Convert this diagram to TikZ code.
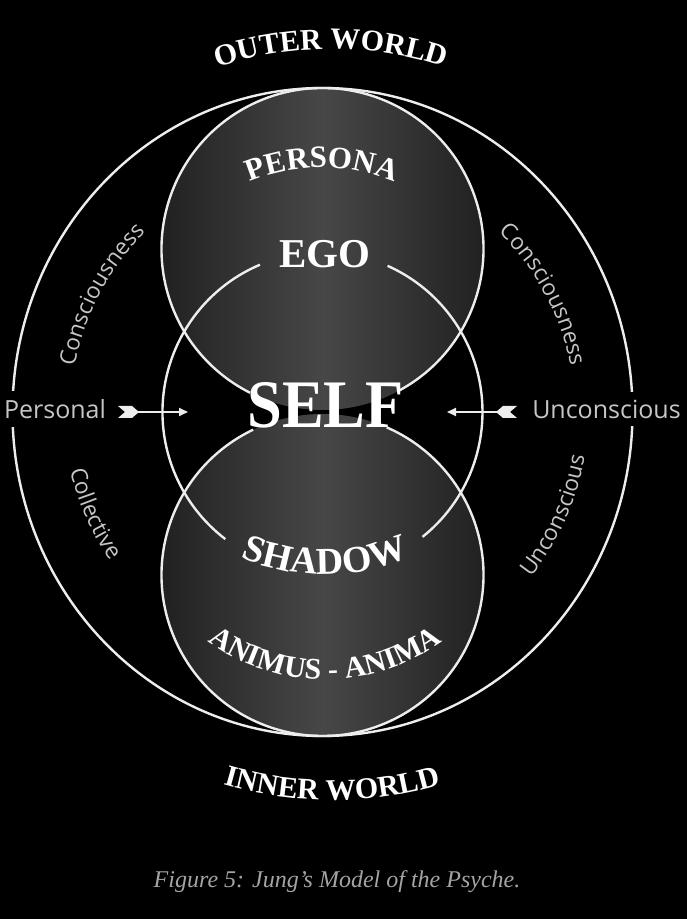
\documentclass[tikz,border=0pt]{standalone}
\usepackage{fontspec}
\setmainfont{Liberation Serif}
\newfontfamily\sidefont{Open Sans}
\usetikzlibrary{decorations.text,arrows.meta}
\definecolor{linew}{HTML}{EDEDED}
\definecolor{sidegray}{HTML}{C6C6C6}
\definecolor{capgray}{HTML}{A4A4A4}
\definecolor{discdark}{HTML}{212121}
\definecolor{disclight}{HTML}{474747}
\newcommand\lblfont[1]{\bfseries\fontsize{#1}{#1}\selectfont}
\newcommand\sidefnt{\sidefont\fontsize{22.5}{22.5}\selectfont}
\begin{document}
\begin{tikzpicture}[x=1pt,y=1pt,
  ring/.style={draw=linew, line width=2.4pt},
  disc/.style={left color=discdark, right color=discdark, middle color=disclight},
  shaft/.style={draw=linew, line width=1.8pt, -{Triangle[length=9pt,width=8pt]}},
  fletch/.style={fill=linew},
  sidelabel/.style={fill=black, text=sidegray, font=\sidefont\fontsize{25}{25}\selectfont, inner xsep=2pt, inner ysep=8pt}
]
\fill[black] (0,0) rectangle (687,919);
\useasboundingbox (0,0) rectangle (687,919);

% shaded discs
\shade[disc] (322.5,670) circle[radius=161];
\shade[disc] (322.5,344) circle[radius=161];

% outer world circle
\draw[ring] (322.5,507) ellipse[x radius=310, y radius=324];
% middle (self) circle, broken at EGO and SHADOW
\draw[ring] ([shift={(322.5,507)}]113:160) arc[start angle=113, end angle=232.6, radius=160];
\draw[ring] ([shift={(322.5,507)}]-51.3:160) arc[start angle=-51.3, end angle=66, radius=160];
% upper (persona) circle, broken at SELF
\draw[ring] ([shift={(322.5,670)}]-62:161) arc[start angle=-62, end angle=243.3, radius=161];
% lower (animus) circle, broken at SELF
\draw[ring] ([shift={(322.5,344)}]115.5:161) arc[start angle=115.5, end angle=426.5, radius=161];

% horizontal labels
\node[sidelabel] (personal) at (55,510) {Personal};
\node[sidelabel] (unconscious) at (606.5,510) {Unconscious};

% arrows
\coordinate (ltail) at (126,507);
\coordinate (lhead) at (188,507);
\coordinate (rtail) at (509,507);
\coordinate (rhead) at (447,507);
\draw[shaft] (ltail) -- (lhead);
\draw[shaft] (rtail) -- (rhead);
\fill[fletch] (118,513) -- (132,513) -- (139,507) -- (132,501) -- (118,501) -- (125,507) -- cycle;
\fill[fletch] (517,513) -- (503,513) -- (496,507) -- (503,501) -- (517,501) -- (510,507) -- cycle;

% curved side texts
\path[decorate, decoration={text along path, text align=center, text color=sidegray,
  text={|\sidefnt|Consciousness}}]
  ([shift={(322.5,507)}]172:252) arc[start angle=172, end angle=132, radius=252];
\path[decorate, decoration={text along path, text align=center, text color=sidegray,
  text={|\sidefnt|Consciousness}}]
  ([shift={(322.5,507)}]48:252) arc[start angle=48, end angle=8, radius=252];
\path[decorate, decoration={text along path, text align=center, text color=sidegray,
  text={|\sidefnt|Collective}}]
  ([shift={(322.5,507)}]184:259) arc[start angle=184, end angle=224, radius=259];
\path[decorate, decoration={text along path, text align=center, text color=sidegray,
  text={|\sidefnt|Unconscious}}]
  ([shift={(322.5,507)}]-44:266) arc[start angle=-44, end angle=-4, radius=266];

% curved serif labels
\path[decorate, decoration={text along path, text align=center, text color=white,
  text={|\lblfont{30}|OUTER WORLD}}]
  ([shift={(331,507)}]120:363) arc[start angle=120, end angle=60, radius=363];
\path[decorate, decoration={text along path, text align=center, text color=white,
  text={|\lblfont{30}|INNER WORLD}}]
  ([shift={(332,507)}]240:388) arc[start angle=240, end angle=300, radius=388];
\path[decorate, decoration={text along path, text align=center, text color=white,
  text={|\lblfont{31}|PERSONA}}]
  ([shift={(322,564.5)}]135:187) arc[start angle=135, end angle=45, radius=187];
\path[decorate, decoration={text along path, text align=center, text color=white,
  text={|\lblfont{38}|SHADOW}}]
  ([shift={(325,558.5)}]225:214) arc[start angle=225, end angle=315, radius=214];
\path[decorate, decoration={text along path, text align=center, text color=white,
  text={|\lblfont{30}|ANIMUS - ANIMA}}]
  ([shift={(325,439)}]215:199.5) arc[start angle=215, end angle=325, radius=199.5];

% straight labels
\node[text=white, font=\lblfont{41}, inner sep=0pt] (ego) at (325,665) {EGO};
\node[text=white, font=\lblfont{68}, inner sep=0pt] (self) at (325.5,513.5) {\scalebox{0.92}[1]{SELF}};

% caption
\node[text=capgray, font=\itshape\fontsize{24}{24}\selectfont, inner sep=0pt] (caption) at (337,37) {Figure 5: Jung’s Model of the Psyche.};
\end{tikzpicture}
\end{document}
